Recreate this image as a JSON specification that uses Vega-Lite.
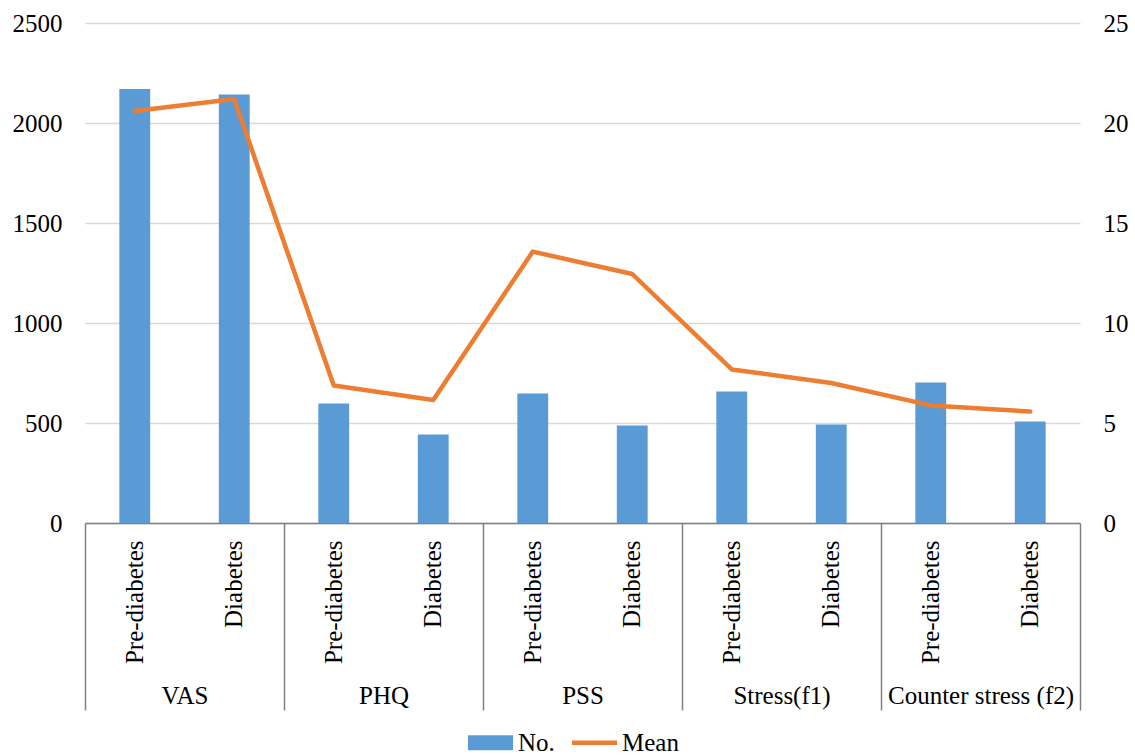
{
  "$schema": "https://vega.github.io/schema/vega-lite/v6.json",
  "width": 995,
  "height": 500,
  "autosize": {"type": "none"},
  "padding": {"left": 85, "top": 23, "right": 55, "bottom": 232},
  "background": "white",
  "config": {
    "view": {"stroke": null},
    "font": "Liberation Serif",
    "axis": {"labelFont": "Liberation Serif", "labelFontSize": 25, "labelColor": "#000000", "title": null, "labelLimit": 0},
    "legend": {"labelFont": "Liberation Serif", "labelFontSize": 25, "labelColor": "#000000"}
  },
  "data": {
    "values": [
      {"group": "VAS", "sub": "Pre-diabetes", "key": "VAS|Pre-diabetes", "No": 2170, "Mean": 20.6},
      {"group": "VAS", "sub": "Diabetes", "key": "VAS|Diabetes", "No": 2142, "Mean": 21.2},
      {"group": "PHQ", "sub": "Pre-diabetes", "key": "PHQ|Pre-diabetes", "No": 598, "Mean": 6.87},
      {"group": "PHQ", "sub": "Diabetes", "key": "PHQ|Diabetes", "No": 443, "Mean": 6.15},
      {"group": "PSS", "sub": "Pre-diabetes", "key": "PSS|Pre-diabetes", "No": 648, "Mean": 13.57},
      {"group": "PSS", "sub": "Diabetes", "key": "PSS|Diabetes", "No": 487, "Mean": 12.45},
      {"group": "Stress(f1)", "sub": "Pre-diabetes", "key": "Stress(f1)|Pre-diabetes", "No": 658, "Mean": 7.68},
      {"group": "Stress(f1)", "sub": "Diabetes", "key": "Stress(f1)|Diabetes", "No": 493, "Mean": 7.0},
      {"group": "Counter stress (f2)", "sub": "Pre-diabetes", "key": "Counter stress (f2)|Pre-diabetes", "No": 703, "Mean": 5.88},
      {"group": "Counter stress (f2)", "sub": "Diabetes", "key": "Counter stress (f2)|Diabetes", "No": 508, "Mean": 5.57}
    ]
  },
  "layer": [
    {
      "mark": {"type": "bar", "width": {"band": 0.31}},
      "encoding": {
        "x": {
          "field": "key", "type": "nominal",
          "scale": {"type": "band", "paddingInner": 0, "paddingOuter": 0,
            "domain": ["VAS|Pre-diabetes", "VAS|Diabetes", "PHQ|Pre-diabetes", "PHQ|Diabetes", "PSS|Pre-diabetes", "PSS|Diabetes", "Stress(f1)|Pre-diabetes", "Stress(f1)|Diabetes", "Counter stress (f2)|Pre-diabetes", "Counter stress (f2)|Diabetes"]},
          "axis": {"orient": "bottom", "labelExpr": "split(datum.value, '|')[1]", "labelAngle": -90, "labelAlign": "right", "labelBaseline": "middle", "labelPadding": 17, "ticks": false, "domain": false, "grid": false, "labelOverlap": false}
        },
        "y": {
          "field": "No", "type": "quantitative",
          "scale": {"domain": [0, 2500]},
          "axis": {"orient": "left", "values": [0, 500, 1000, 1500, 2000, 2500], "format": "d", "grid": true, "gridColor": "#d9d9d9", "gridWidth": 1.5, "ticks": false, "domain": false, "labelPadding": 23}
        },
        "color": {
          "datum": "No.",
          "scale": {"domain": ["No.", "Mean"], "range": ["#5B9BD5", "#ED7D31"]},
          "legend": {
            "title": null, "orient": "none", "direction": "horizontal",
            "legendX": 383, "legendY": 697,
            "symbolSize": 2025, "labelOffset": 5, "columnPadding": 17,
            "encode": {
              "symbols": {
                "update": {
                  "shape": {"signal": "datum.value === 'Mean' ? 'M-1,-0.1H1V0.1H-1Z' : 'M-1,-0.33H1V0.33H-1Z'"},
                  "fill": {"signal": "datum.value === 'Mean' ? '#ED7D31' : '#5B9BD5'"},
                  "strokeWidth": {"value": 0},
                  "opacity": {"value": 1}
                }
              }
            }
          }
        }
      }
    },
    {
      "mark": {"type": "line", "strokeWidth": 4.5, "strokeCap": "round", "strokeJoin": "round"},
      "encoding": {
        "x": {
          "field": "key", "type": "nominal", "bandPosition": 0.5,
          "scale": {"type": "band", "paddingInner": 0, "paddingOuter": 0,
            "domain": ["VAS|Pre-diabetes", "VAS|Diabetes", "PHQ|Pre-diabetes", "PHQ|Diabetes", "PSS|Pre-diabetes", "PSS|Diabetes", "Stress(f1)|Pre-diabetes", "Stress(f1)|Diabetes", "Counter stress (f2)|Pre-diabetes", "Counter stress (f2)|Diabetes"]},
          "axis": null
        },
        "y": {
          "field": "Mean", "type": "quantitative",
          "scale": {"domain": [0, 25]},
          "axis": {"orient": "right", "values": [0, 5, 10, 15, 20, 25], "grid": false, "ticks": false, "domain": false, "labelPadding": 23}
        },
        "color": {"datum": "Mean"}
      }
    },
    {
      "mark": {"type": "point", "opacity": 0},
      "encoding": {
        "x": {
          "field": "group", "type": "nominal",
          "scale": {"type": "band", "paddingInner": 0, "paddingOuter": 0,
            "domain": ["VAS", "PHQ", "PSS", "Stress(f1)", "Counter stress (f2)"]},
          "axis": {"orient": "bottom", "tickBand": "extent", "tickSize": 187, "tickColor": "#808080", "tickWidth": 1.5, "domainColor": "#808080", "domainWidth": 1.5, "labelPadding": -27, "labelAngle": 0, "labelAlign": "center", "labelBaseline": "top", "grid": false, "labelOverlap": false, "labelBound": false}
        }
      }
    }
  ],
  "resolve": {"scale": {"x": "independent", "y": "independent"}}
}
